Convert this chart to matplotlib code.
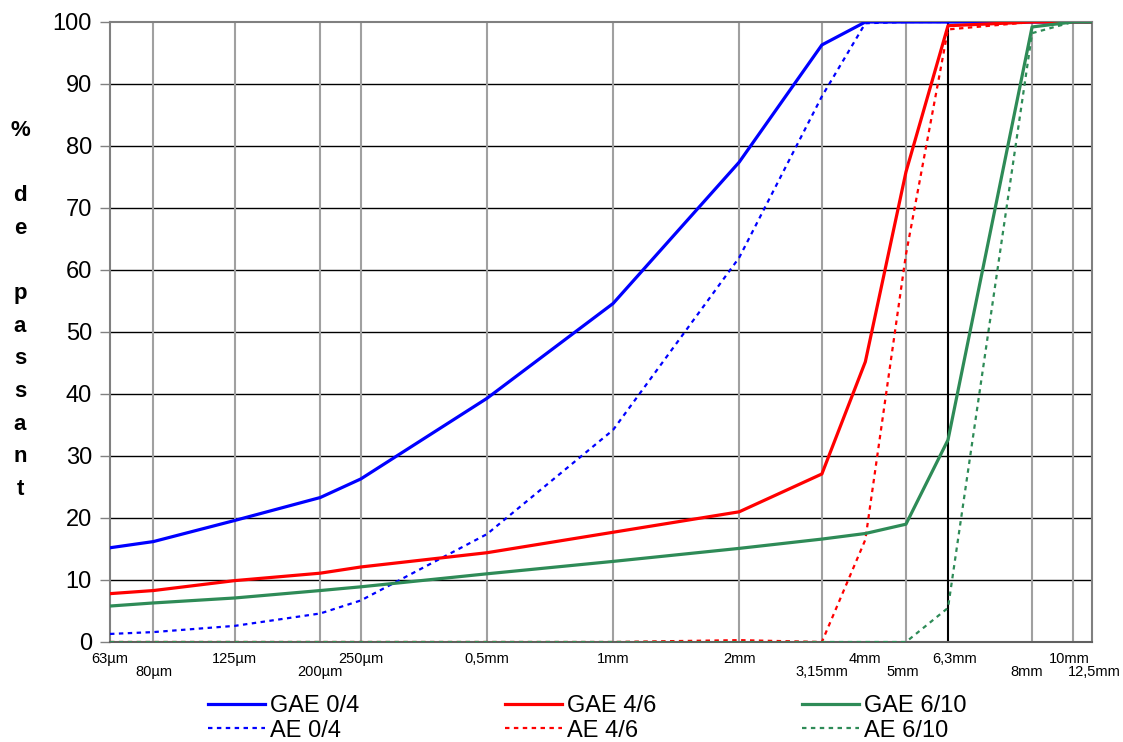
import matplotlib.pyplot as plt
from matplotlib.lines import Line2D

plt.rcParams['font.family'] = ['Liberation Sans', 'DejaVu Sans']

# sieve openings in mm
sieves = [0.063, 0.08, 0.125, 0.2, 0.25, 0.5, 1, 2, 3.15, 4, 5, 6.3, 10, 12.5, 14]

# % passing
gae_04 = [15.2, 16.2, 19.6, 23.3, 26.3, 39.3, 54.6, 77.4, 96.3, 100, 100, 100, 100, 100, 100]
gae_46 = [7.8, 8.3, 9.9, 11.1, 12.1, 14.4, 17.7, 21.0, 27.1, 45.2, 75.8, 99.4, 100, 100, 100]
gae_610 = [5.8, 6.3, 7.1, 8.3, 8.9, 11.0, 13.0, 15.1, 16.6, 17.5, 19.0, 32.6, 99.2, 100, 100]
ae_04 = [1.3, 1.6, 2.6, 4.6, 6.7, 17.4, 34.2, 62.0, 88.0, 99.8, 100, 100, 100, 100, 100]
ae_46 = [0, 0, 0, 0, 0, 0, 0, 0.3, 0, 16.5, 62.5, 98.8, 100, 100, 100]
ae_610 = [0, 0, 0, 0, 0, 0, 0, 0, 0, 0, 0, 5.5, 98.2, 100, 100]

# vertical grid lines (mm), the 6.3 mm one is drawn in black
grid_x = [0.08, 0.125, 0.2, 0.25, 0.5, 1, 2, 3.15, 5, 10, 12.5]

tick_labels = ["63µm", "80µm", "125µm", "200µm", "250µm", "0,5mm", "1mm", "2mm",
               "3,15mm", "4mm", "5mm", "6,3mm", "8mm", "10mm", "12,5mm"]
label_x = [0.063, 0.08, 0.125, 0.2, 0.25, 0.5, 1, 2, 3.15, 4, 4.92, 6.55, 9.73, 12.3, 16.3]
label_low = [0, 1, 0, 1, 0, 0, 0, 0, 1, 0, 1, 0, 1, 0, 1]

blue = '#0000FF'
red = '#FF0000'
green = '#2E8B57'

fig = plt.figure(figsize=(11.23, 7.42), dpi=100)
ax = fig.add_axes([110 / 1123, 100 / 742, 982 / 1123, 620 / 742])

ax.set_xscale('log')
ax.set_xlim(0.063, 13.9)
ax.set_ylim(0, 100)

# grid
for v in range(10, 100, 10):
    ax.axhline(v, color='black', lw=1, zorder=1)
for g in grid_x:
    ax.axvline(g, color='#A0A0A0', lw=1.5, zorder=1)
ax.axvline(6.3, color='black', lw=1.5, zorder=1)

dot = (0, (2, 2))
ax.plot(sieves, ae_04, color=blue, lw=1.6, ls=dot, zorder=3)
ax.plot(sieves, ae_46, color=red, lw=1.6, ls=dot, zorder=3)
ax.plot(sieves, ae_610, color=green, lw=1.6, ls=dot, zorder=3)
ax.plot(sieves, gae_04, color=blue, lw=2.3, zorder=4)
ax.plot(sieves, gae_46, color=red, lw=2.3, zorder=4)
ax.plot(sieves, gae_610, color=green, lw=2.3, zorder=4)

for s in ax.spines.values():
    s.set_color('#808080')
    s.set_linewidth(1.5)
ax.spines['bottom'].set_color('#606060')

ax.set_yticks(range(0, 101, 10))
ax.tick_params(axis='y', length=7, width=1, color='#808080', labelsize=17, pad=6)
ax.set_xticks([])
ax.minorticks_off()
ax.tick_params(axis='x', which='both', bottom=False, labelbottom=False)

tr = ax.get_xaxis_transform()
for i, (lab, xv, low) in enumerate(zip(tick_labels, label_x, label_low)):
    yv = -0.048 if low else -0.028
    # last label is pushed against the right edge of the figure
    ha = 'right' if i == len(tick_labels) - 1 else 'center'
    ax.text(xv, yv, lab, transform=tr, ha=ha, va='center', fontsize=10.5)

# vertical y label
ylab = "%\n\nd\ne\n\np\na\ns\ns\na\nn\nt"
for i, ch in enumerate(ylab.split("\n")):
    if ch:
        fig.text(20 / 1123, 1 - (130 + i * 32.7) / 742, ch, ha='center', va='center',
                 fontsize=16, fontweight='bold')

handles = [
    Line2D([], [], color=blue, lw=2.3), Line2D([], [], color=blue, lw=1.6, ls=(0, (2, 2))),
    Line2D([], [], color=red, lw=2.3), Line2D([], [], color=red, lw=1.6, ls=(0, (2, 2))),
    Line2D([], [], color=green, lw=2.3), Line2D([], [], color=green, lw=1.6, ls=(0, (2, 2))),
]
labels = ["GAE 0/4", "AE 0/4", "GAE 4/6", "AE 4/6", "GAE 6/10", "AE 6/10"]
fig.legend(handles, labels, ncol=3, loc='lower left', bbox_to_anchor=(187 / 1123, -21 / 742),
           frameon=False, fontsize=17, handlelength=2.4, handletextpad=0.2,
           columnspacing=6.2, labelspacing=0.1)

fig.savefig('out.png', dpi=100)
